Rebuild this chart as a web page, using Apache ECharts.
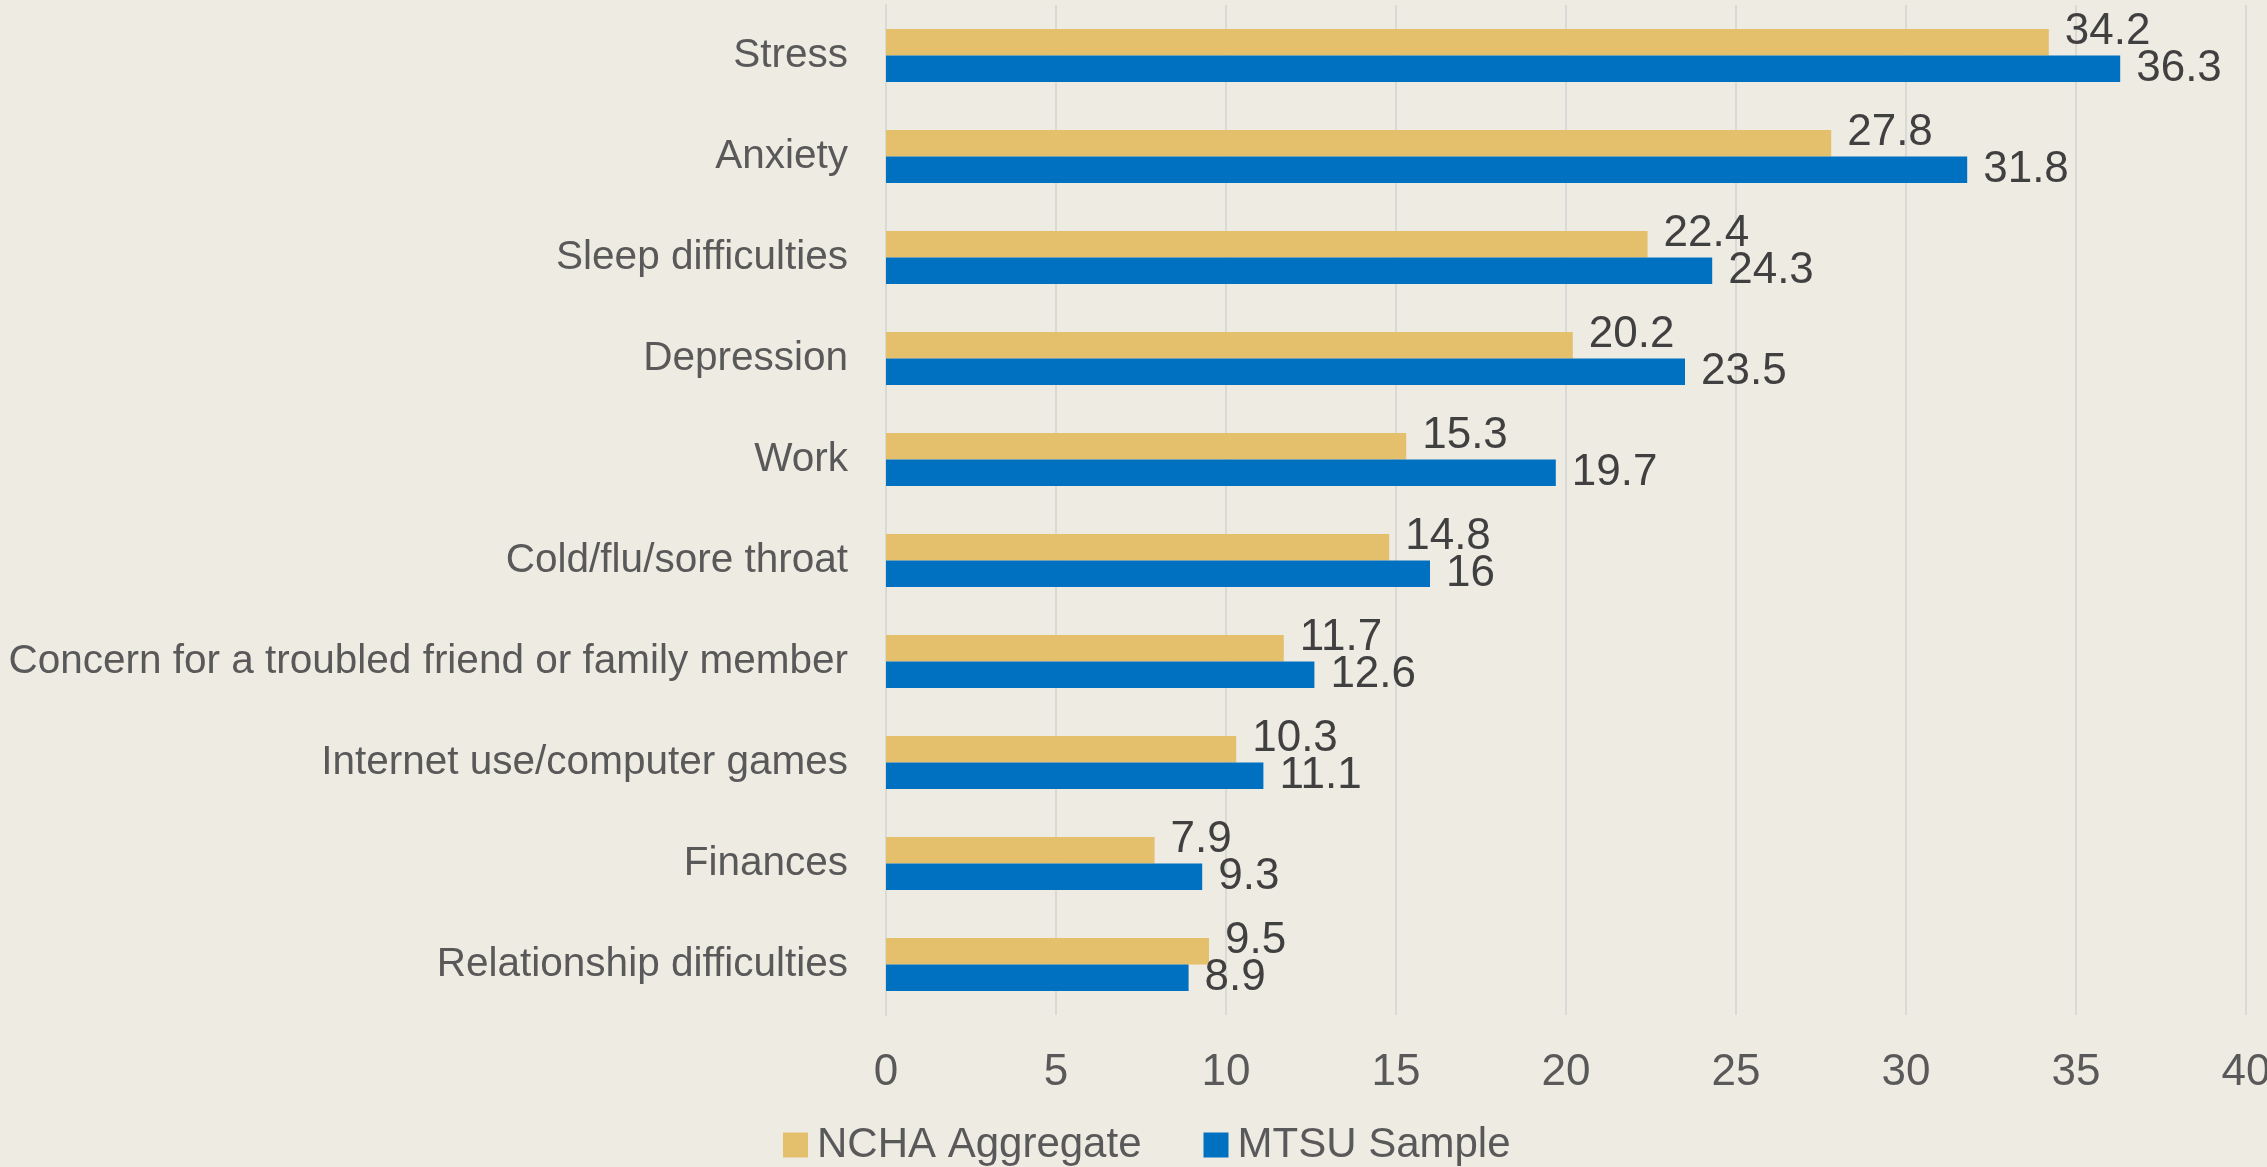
<!DOCTYPE html>
<html>
<head>
<meta charset="utf-8">
<script src="https://cdn.jsdelivr.net/npm/echarts@6/dist/echarts.min.js"></script>
<style>
    html, body { margin: 0; padding: 0; background: #eeebe3; }
    #chart { width: 2267px; height: 1167px; }
</style>
</head>
<body>
<div id="chart"></div>
<script>
// categories top to bottom
const categories = [
    "Stress",
    "Anxiety",
    "Sleep difficulties",
    "Depression",
    "Work",
    "Cold/flu/sore throat",
    "Concern for a troubled friend or family member",
    "Internet use/computer games",
    "Finances",
    "Relationship difficulties"
];
const nchaValues = [34.2, 27.8, 22.4, 20.2, 15.3, 14.8, 11.7, 10.3, 7.9, 9.5];
const mtsuValues = [36.3, 31.8, 24.3, 23.5, 19.7, 16, 12.6, 11.1, 9.3, 8.9];
const xTicks = [0, 5, 10, 15, 20, 25, 30, 35, 40];

const FONT = "Liberation Sans";
const chart = echarts.init(document.getElementById("chart"));

chart.setOption({
    backgroundColor: "#eeebe3",
    textStyle: { fontFamily: FONT },
    animation: false,
    grid: { left: 886, right: 21, top: 5, bottom: 152, outerBoundsMode: "none" },
    legend: {
        data: ["NCHA Aggregate", "MTSU Sample"],
        left: 778,
        top: 1119,
        icon: "rect",
        itemWidth: 25,
        itemHeight: 25,
        itemGap: 62,
        textStyle: { fontSize: 42, color: "#595959", fontFamily: FONT, padding: [0, 0, 0, 4] }
    },
    xAxis: {
        type: "value",
        min: xTicks[0],
        max: xTicks[xTicks.length - 1],
        interval: 5,
        axisLine: { show: false },
        axisTick: { show: false },
        splitLine: { lineStyle: { color: "#d9d9d6", width: 2 } },
        axisLabel: { fontSize: 44, color: "#595959", margin: 36 }
    },
    yAxis: {
        type: "category",
        inverse: true,
        data: categories,
        axisLine: { show: true, lineStyle: { color: "#d9d9d6", width: 2 } },
        axisTick: { show: false },
        axisLabel: { fontSize: 40.5, color: "#595959", margin: 38 }
    },
    series: [
        {
            name: "NCHA Aggregate",
            type: "bar",
            data: nchaValues,
            itemStyle: { color: "#e4bf6c" },
            barGap: "0%",
            barCategoryGap: "47.5%",
            label: {
                show: true,
                position: "right",
                distance: 16,
                offset: [0, -10],
                fontSize: 44,
                color: "#404040"
            }
        },
        {
            name: "MTSU Sample",
            type: "bar",
            data: mtsuValues,
            itemStyle: { color: "#0070c0" },
            barGap: "0%",
            barCategoryGap: "47.5%",
            label: {
                show: true,
                position: "right",
                distance: 16,
                fontSize: 44,
                color: "#404040"
            }
        }
    ]
});
</script>
</body>
</html>
